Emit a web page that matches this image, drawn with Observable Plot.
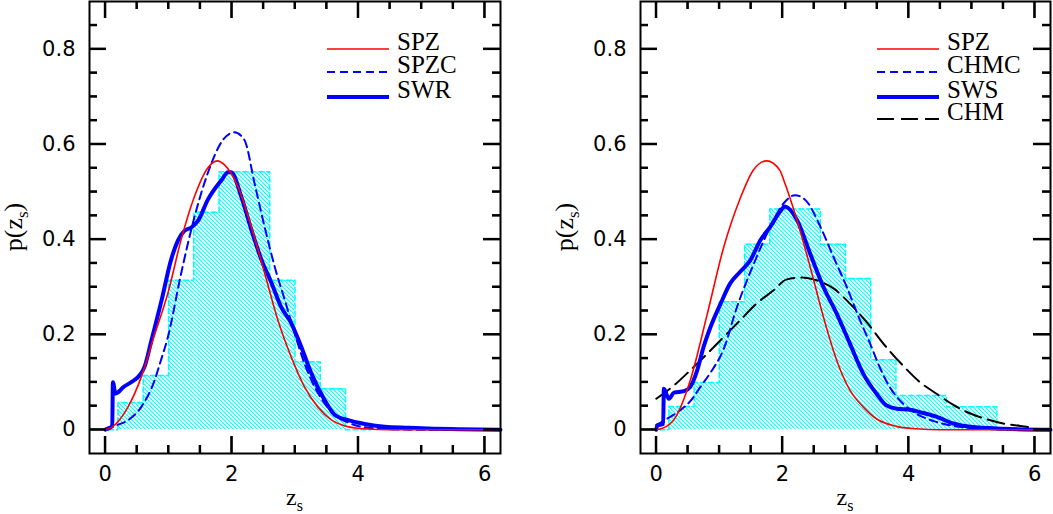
<!DOCTYPE html>
<html>
<head>
<meta charset="utf-8">
<script src="https://cdn.jsdelivr.net/npm/d3@7"></script>
<script src="https://cdn.jsdelivr.net/npm/@observablehq/plot@0.6"></script>
<style>
  body { margin: 0; background: white; }
  #chart { display: flex; width: 1053px; height: 514px; }
</style>
</head>
<body>
<div id="chart"></div>
<script>
// histogram: lower bin edges (width 0.4) and heights
const binLo = [-0.2, 0.2, 0.6, 1.0, 1.4, 1.8, 2.2, 2.6, 3.0, 3.4, 3.8, 4.2, 4.6, 5.0, 5.4];
const binWidth = 0.4;
const histLeft = [0, 0.057, 0.114, 0.314, 0.457, 0.542, 0.542, 0.314, 0.143, 0.086, 0];
const histRight = [0, 0.049, 0.099, 0.269, 0.39, 0.464, 0.464, 0.39, 0.318, 0.147, 0.072, 0.072, 0.048, 0.048, 0];

// left panel curves
const spzLX = [0, 0.1, 0.36, 0.57, 0.78, 0.99, 1.2, 1.41, 1.62, 1.77, 1.89, 2.1, 2.31, 2.52, 2.73, 2.94, 3.15, 3.36, 3.58, 3.79, 4.1, 4.5, 5, 6.25];
const spzLY = [0, 0.005, 0.048, 0.111, 0.2, 0.287, 0.4, 0.49, 0.55, 0.565, 0.556, 0.51, 0.426, 0.329, 0.23, 0.153, 0.09, 0.048, 0.02, 0.008, 0.002, 0, 0, 0];
const spzcX = [0, 0.15, 0.36, 0.57, 0.78, 0.88, 0.99, 1.2, 1.41, 1.62, 1.86, 2.04, 2.2, 2.36, 2.52, 2.68, 2.84, 3.0, 3.15, 3.31, 3.47, 3.63, 3.84, 4.1, 4.5, 5, 6.25];
const spzcY = [0, 0.008, 0.02, 0.048, 0.104, 0.146, 0.195, 0.329, 0.447, 0.539, 0.609, 0.625, 0.609, 0.518, 0.426, 0.342, 0.272, 0.2, 0.139, 0.09, 0.055, 0.031, 0.015, 0.005, 0.001, 0, 0];
const swrX = [0, 0.07, 0.11, 0.12, 0.16, 0.29, 0.41, 0.52, 0.62, 0.73, 0.89, 1.04, 1.15, 1.25, 1.36, 1.47, 1.62, 1.84, 1.94, 1.99, 2.15, 2.31, 2.47, 2.63, 2.78, 2.94, 3.1, 3.26, 3.47, 3.63, 3.84, 4.1, 4.42, 4.8, 5.2, 5.6, 6.25];
const swrY = [0, 0.004, 0.008, 0.1, 0.076, 0.09, 0.1, 0.111, 0.132, 0.188, 0.272, 0.357, 0.398, 0.418, 0.425, 0.44, 0.483, 0.525, 0.541, 0.541, 0.49, 0.42, 0.357, 0.308, 0.258, 0.224, 0.174, 0.118, 0.062, 0.031, 0.02, 0.012, 0.006, 0.004, 0.002, 0.001, 0];

// right panel curves
const spzRX = [0, 0.1, 0.3, 0.54, 0.81, 1.07, 1.33, 1.54, 1.75, 1.96, 2.02, 2.23, 2.44, 2.65, 2.86, 3.07, 3.28, 3.49, 3.81, 4.12, 4.5, 5, 6.25];
const spzRY = [0, 0.003, 0.025, 0.104, 0.244, 0.384, 0.486, 0.546, 0.565, 0.545, 0.525, 0.441, 0.342, 0.237, 0.146, 0.083, 0.048, 0.023, 0.007, 0.002, 0, 0, 0];
const chmcX = [0, 0.17, 0.38, 0.54, 0.7, 0.86, 1.07, 1.28, 1.55, 1.81, 2.02, 2.2, 2.39, 2.6, 2.81, 3.02, 3.23, 3.39, 3.54, 3.7, 3.91, 4.12, 4.4, 4.71, 5.24, 6.25];
const chmcY = [0.01, 0.023, 0.041, 0.06, 0.09, 0.12, 0.17, 0.258, 0.35, 0.427, 0.476, 0.493, 0.479, 0.427, 0.363, 0.3, 0.23, 0.181, 0.132, 0.09, 0.055, 0.034, 0.018, 0.008, 0.002, 0];
const swsX = [0, 0.016, 0.11, 0.12, 0.2, 0.28, 0.44, 0.54, 0.65, 0.75, 0.86, 1.02, 1.17, 1.33, 1.49, 1.65, 1.81, 1.96, 2.04, 2.23, 2.44, 2.65, 2.86, 3.07, 3.28, 3.49, 3.65, 3.81, 4.02, 4.18, 4.45, 4.71, 4.98, 5.5, 6.25];
const swsY = [0, 0.009, 0.012, 0.086, 0.065, 0.078, 0.081, 0.09, 0.125, 0.174, 0.216, 0.265, 0.307, 0.332, 0.356, 0.398, 0.427, 0.458, 0.469, 0.441, 0.37, 0.3, 0.244, 0.181, 0.118, 0.076, 0.051, 0.044, 0.042, 0.037, 0.027, 0.013, 0.006, 0.002, 0];
const chmX = [0, 0.28, 0.54, 0.81, 1.07, 1.33, 1.59, 1.86, 2.07, 2.31, 2.54, 2.81, 3.07, 3.33, 3.6, 3.91, 4.18, 4.45, 4.71, 4.98, 5.24, 5.5, 5.77, 6.0];
const chmY = [0.065, 0.093, 0.125, 0.16, 0.195, 0.23, 0.265, 0.293, 0.316, 0.32, 0.314, 0.297, 0.265, 0.227, 0.181, 0.135, 0.1, 0.075, 0.052, 0.034, 0.022, 0.013, 0.008, 0.004];

// axes
const xTickLabels = [0, 2, 4, 6];
const xMinor = [0.5, 1, 1.5, 2.5, 3, 3.5, 4.5, 5, 5.5];
const yTickLabels = [0, 0.2, 0.4, 0.6, 0.8];
const yMinor = [0.05, 0.1, 0.15, 0.25, 0.3, 0.35, 0.45, 0.5, 0.55, 0.65, 0.7, 0.75, 0.85];

const pts = (xs, ys) => xs.map((x, i) => ({x, y: ys[i]}));

const RED = {stroke: "#ff0000", strokeWidth: 1.6};
const BLUE_DASH = {stroke: "#0000ff", strokeWidth: 2, strokeDasharray: "8,5"};
const BLUE_THICK = {stroke: "#0000ff", strokeWidth: 4};
const BLACK_DASH = {stroke: "#000000", strokeWidth: 2, strokeDasharray: "17,7"};

function panel({width, marginLeft, marginRight, hist, curves, legend, hatchId}) {
  const H = 514, mt = 1, mb = 61;
  const fh = H - mt - mb, fw = width - marginLeft - marginRight;
  const bottom = mt + fh, right = marginLeft + fw;
  const tk = {stroke: "black", strokeWidth: 2};

  const bins = hist.map((h, i) => ({x1: binLo[i], x2: binLo[i] + binWidth, y: h}));
  const outline = bins.map(b => ({x: b.x1, y: b.y})).concat([{x: bins[bins.length - 1].x2, y: 0}]);

  const svg = Plot.plot({
    width, height: H, marginTop: mt, marginBottom: mb, marginLeft, marginRight,
    style: {background: "white"},
    x: {domain: [-0.25, 6.25]},
    y: {domain: [-0.05, 0.9]},
    marks: [
      Plot.rectY(bins, {x1: "x1", x2: "x2", y: "y", fill: `url(#${hatchId})`}),
      Plot.lineY(outline, {x: "x", y: "y", curve: "step-after", stroke: "#00ffff", strokeWidth: 1.5, strokeDasharray: "5,3"}),
      ...curves.map(c => Plot.lineY(pts(c.x, c.y), {x: "x", y: "y", curve: "monotone-x", ...c.style})),
      Plot.frame({stroke: "black", strokeWidth: 2}),
      // inward ticks on all four sides
      Plot.tickX(xTickLabels, {x: d => d, insetTop: fh - 17, ...tk}),
      Plot.tickX(xMinor, {x: d => d, insetTop: fh - 8, ...tk}),
      Plot.tickX(xTickLabels, {x: d => d, insetBottom: fh - 17, ...tk}),
      Plot.tickX(xMinor, {x: d => d, insetBottom: fh - 8, ...tk}),
      Plot.tickY(yTickLabels, {y: d => d, insetRight: fw - 17, ...tk}),
      Plot.tickY(yMinor, {y: d => d, insetRight: fw - 8, ...tk}),
      Plot.tickY(yTickLabels, {y: d => d, insetLeft: fw - 17, ...tk}),
      Plot.tickY(yMinor, {y: d => d, insetLeft: fw - 8, ...tk}),
      Plot.axisX({ticks: xTickLabels, tickSize: 0, tickPadding: 13, fontSize: 21, fontFamily: "DejaVu Sans", label: null,
        tickFormat: d => String(d)}),
      Plot.axisY({ticks: yTickLabels, tickSize: 0, tickPadding: 14, fontSize: 21, fontFamily: "DejaVu Sans", label: null,
        tickFormat: d => d === 0 ? "0" : d.toFixed(1)})
    ]
  });

  const s = d3.select(svg);
  const pat = s.append("defs").append("pattern")
    .attr("id", hatchId).attr("patternUnits", "userSpaceOnUse").attr("width", 4).attr("height", 4);
  pat.append("rect").attr("width", 4).attr("height", 4).attr("fill", "white");
  pat.append("path").attr("d", "M-1,-1L5,5M-1,3L1,5M3,-1L5,1").attr("stroke", "#00ffff").attr("stroke-width", 1.2);

  const serif = "Liberation Serif";
  // x label z_s
  const xl = s.append("text").attr("x", marginLeft + fw / 2).attr("y", 505)
    .attr("text-anchor", "middle").attr("font-family", serif).attr("font-size", 24);
  xl.append("tspan").text("z");
  xl.append("tspan").attr("dy", 6).attr("font-size", 16).text("s");

  // y label p(z_s)
  const yl = s.append("text").attr("transform", `translate(${marginLeft - 67},${mt + fh / 2}) rotate(-90)`)
    .attr("text-anchor", "middle").attr("font-family", serif).attr("font-size", 26);
  yl.append("tspan").text("p(z");
  yl.append("tspan").attr("dy", 6).attr("font-size", 17).text("s");
  yl.append("tspan").attr("dy", -6).text(")");

  // legend
  legend.forEach(e => {
    s.append("line").attr("x1", right - 173).attr("x2", right - 111).attr("y1", e.y).attr("y2", e.y)
      .attr("stroke", e.style.stroke).attr("stroke-width", e.style.strokeWidth)
      .attr("stroke-dasharray", e.style.strokeDasharray || null);
    s.append("text").attr("x", right - 103).attr("y", e.y + 1).attr("text-anchor", "start")
      .attr("font-family", serif).attr("font-size", 25).text(e.label);
  });

  // same ticks again, drawn last from the plot's scales
  const sx = svg.scale("x"), sy = svg.scale("y");
  const seg = (x1, y1, x2, y2) => s.append("line")
    .attr("x1", x1).attr("y1", y1).attr("x2", x2).attr("y2", y2)
    .attr("stroke", "#000000").attr("stroke-width", 2);
  xTickLabels.map(v => [v, 17]).concat(xMinor.map(v => [v, 8])).forEach(([v, len]) => {
    const px = sx.apply(v);
    seg(px, bottom, px, bottom - len);
    seg(px, mt, px, mt + len);
  });
  yTickLabels.map(v => [v, 17]).concat(yMinor.map(v => [v, 8])).forEach(([v, len]) => {
    const py = sy.apply(v);
    seg(marginLeft, py, marginLeft + len, py);
    seg(right, py, right - len, py);
  });
  return svg;
}

const chart = document.getElementById("chart");
chart.appendChild(panel({
  width: 526, marginLeft: 89, marginRight: 26, hist: histLeft, hatchId: "hatchL",
  curves: [
    {x: swrX, y: swrY, style: BLUE_THICK},
    {x: spzcX, y: spzcY, style: BLUE_DASH},
    {x: spzLX, y: spzLY, style: RED}
  ],
  legend: [
    {label: "SPZ", style: RED, y: 49},
    {label: "SPZC", style: BLUE_DASH, y: 72},
    {label: "SWR", style: BLUE_THICK, y: 97}
  ]
}));
chart.appendChild(panel({
  width: 527, marginLeft: 114, marginRight: 3, hist: histRight, hatchId: "hatchR",
  curves: [
    {x: chmX, y: chmY, style: BLACK_DASH},
    {x: swsX, y: swsY, style: BLUE_THICK},
    {x: chmcX, y: chmcY, style: BLUE_DASH},
    {x: spzRX, y: spzRY, style: RED}
  ],
  legend: [
    {label: "SPZ", style: RED, y: 49},
    {label: "CHMC", style: BLUE_DASH, y: 72},
    {label: "SWS", style: BLUE_THICK, y: 97},
    {label: "CHM", style: BLACK_DASH, y: 119}
  ]
}));
</script>
</body>
</html>
